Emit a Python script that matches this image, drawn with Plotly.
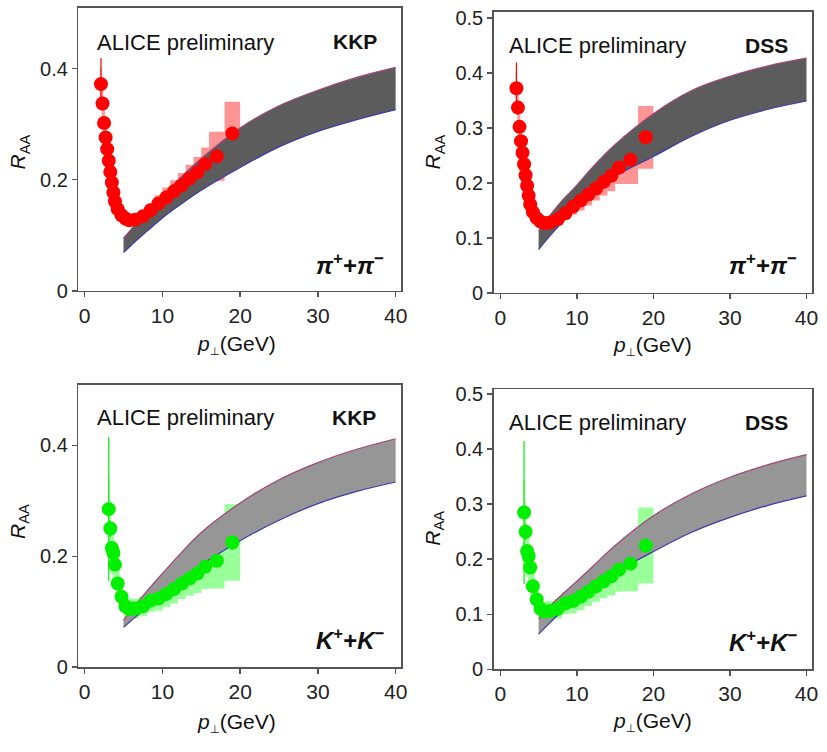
import plotly.graph_objects as go

W, H = 827, 752

# ---------------- data ----------------
# charged pions (ALICE preliminary)
pi_pt = [2.1, 2.3, 2.5, 2.7, 2.9, 3.1, 3.3, 3.5, 3.7, 3.9, 4.25, 4.75, 5.25, 5.75,
         6.5, 7.5, 8.5, 9.5, 10.5, 11.5, 12.5, 13.5, 14.5, 15.5, 17.0, 19.0]
pi_edges = [2.0, 2.2, 2.4, 2.6, 2.8, 3.0, 3.2, 3.4, 3.6, 3.8, 4.0, 4.5, 5.0, 5.5,
            6.0, 7.0, 8.0, 9.0, 10.0, 11.0, 12.0, 13.0, 14.0, 15.0, 16.0, 18.0, 20.0]
pi_raa = [0.372, 0.337, 0.302, 0.276, 0.255, 0.234, 0.214, 0.195, 0.177, 0.161, 0.147,
          0.136, 0.130, 0.127, 0.128, 0.134, 0.145, 0.157, 0.168, 0.179, 0.190, 0.202,
          0.213, 0.228, 0.242, 0.283]
pi_stat = [0.047, 0.012, 0.008, 0.006, 0.005, 0.005, 0.004, 0.004, 0.004, 0.004, 0.003,
           0.003, 0.003, 0.003, 0.003, 0.003, 0.003, 0.004, 0.004, 0.005, 0.005, 0.006,
           0.007, 0.008, 0.008, 0.012]
pi_sys = [0.030, 0.027, 0.024, 0.022, 0.020, 0.019, 0.017, 0.016, 0.014, 0.013, 0.012,
          0.011, 0.010, 0.010, 0.010, 0.011, 0.012, 0.015, 0.018, 0.020, 0.022, 0.025,
          0.028, 0.030, 0.044, 0.057]

# charged kaons (ALICE preliminary)
k_pt = [3.1, 3.3, 3.5, 3.7, 3.9, 4.25, 4.75, 5.25, 5.75, 6.5, 7.5, 8.5, 9.5, 10.5,
        11.5, 12.5, 13.5, 14.5, 15.5, 17.0, 19.0]
k_edges = [3.0, 3.2, 3.4, 3.6, 3.8, 4.0, 4.5, 5.0, 5.5, 6.0, 7.0, 8.0, 9.0, 10.0,
           11.0, 12.0, 13.0, 14.0, 15.0, 16.0, 18.0, 20.0]
k_raa = [0.285, 0.250, 0.215, 0.206, 0.185, 0.151, 0.127, 0.110, 0.105, 0.106, 0.110,
         0.120, 0.124, 0.132, 0.141, 0.151, 0.160, 0.169, 0.181, 0.192, 0.225]
k_stat = [0.130, 0.015, 0.010, 0.008, 0.007, 0.006, 0.005, 0.004, 0.004, 0.004, 0.004,
          0.004, 0.004, 0.005, 0.005, 0.006, 0.006, 0.007, 0.008, 0.009, 0.013]
k_sys = [0.058, 0.052, 0.047, 0.045, 0.040, 0.030, 0.024, 0.020, 0.018, 0.018, 0.018,
         0.020, 0.022, 0.024, 0.026, 0.028, 0.031, 0.035, 0.040, 0.050, 0.069]

# theory bands
band_pt = [5, 6, 7, 8, 10, 12, 15, 20, 25, 30, 35, 40]
pi_kkp_hi = [0.095, 0.111, 0.127, 0.142, 0.170, 0.199, 0.238, 0.293, 0.333, 0.361, 0.384, 0.402]
pi_kkp_lo = [0.069, 0.082, 0.095, 0.107, 0.131, 0.152, 0.181, 0.222, 0.259, 0.287, 0.308, 0.326]
pi_dss_hi = [0.113, 0.132, 0.150, 0.167, 0.196, 0.228, 0.270, 0.326, 0.368, 0.394, 0.413, 0.427]
pi_dss_lo = [0.079, 0.096, 0.112, 0.127, 0.157, 0.180, 0.212, 0.248, 0.285, 0.314, 0.334, 0.349]
k_kkp_hi = [0.085, 0.103, 0.120, 0.137, 0.169, 0.200, 0.243, 0.296, 0.338, 0.369, 0.393, 0.412]
k_kkp_lo = [0.072, 0.084, 0.096, 0.107, 0.131, 0.152, 0.184, 0.228, 0.265, 0.295, 0.317, 0.334]
k_dss_hi = [0.092, 0.108, 0.122, 0.135, 0.160, 0.186, 0.225, 0.279, 0.319, 0.349, 0.372, 0.390]
k_dss_lo = [0.064, 0.078, 0.092, 0.104, 0.128, 0.148, 0.176, 0.214, 0.249, 0.276, 0.298, 0.315]

x_ticks = [0, 10, 20, 30, 40]
y_ticks_kkp = [0, 0.2, 0.4]
y_tick_text_kkp = ["0", "0.2", "0.4"]
y_ticks_dss = [0, 0.1, 0.2, 0.3, 0.4, 0.5]
y_tick_text_dss = ["0", "0.1", "0.2", "0.3", "0.4", "0.5"]

# ---------------- layout helpers ----------------
FONT = "Arial, 'Liberation Sans', sans-serif"


def fx(p):
    return p / W


def fy(p):
    return 1 - p / H


panels = [
    dict(name="pi_kkp", box=(79, 2, 404, 291.4), xr=[-0.8, 40.7], yr=[0, 0.509],
         pt=pi_pt, edges=pi_edges, raa=pi_raa, stat=pi_stat, sys=pi_sys,
         hi=pi_kkp_hi, lo=pi_kkp_lo, band="rgb(92,92,92)",
         mcol="#ff0000", scol="rgba(255,0,0,0.42)",
         yt=y_ticks_kkp, ytt=y_tick_text_kkp, model="KKP",
         part="<b><i>π</i><sup>+</sup>+<i>π</i><sup>−</sup></b>",
         alice=(186.5, 37), mlab=(357.5, 36), plab=(353, 264),
         xtitle=(238, 346), ytitle=(19, 149)),
    dict(name="pi_dss", box=(497.3, 6, 818, 293.6), xr=[-0.87, 40.73], yr=[0, 0.511],
         pt=pi_pt, edges=pi_edges, raa=pi_raa, stat=pi_stat, sys=pi_sys,
         hi=pi_dss_hi, lo=pi_dss_lo, band="rgb(92,92,92)",
         mcol="#ff0000", scol="rgba(255,0,0,0.42)",
         yt=y_ticks_dss, ytt=y_tick_text_dss, model="DSS",
         part="<b><i>π</i><sup>+</sup>+<i>π</i><sup>−</sup></b>",
         alice=(602, 40), mlab=(772, 40), plab=(769, 264),
         xtitle=(657, 347), ytitle=(437, 149)),
    dict(name="k_kkp", box=(79, 387.7, 404, 676.5), xr=[-0.8, 40.7], yr=[0, 0.509],
         pt=k_pt, edges=k_edges, raa=k_raa, stat=k_stat, sys=k_sys,
         hi=k_kkp_hi, lo=k_kkp_lo, band="rgb(150,150,150)",
         mcol="#00f000", scol="rgba(0,255,0,0.40)",
         yt=y_ticks_kkp, ytt=y_tick_text_kkp, model="KKP",
         part="<b><i>K</i><sup>+</sup>+<i>K</i><sup>−</sup></b>",
         alice=(186.5, 421), mlab=(357, 421), plab=(353, 648),
         xtitle=(238, 733), ytitle=(19, 527)),
    dict(name="k_dss", box=(497.3, 392, 818, 678.7), xr=[-0.87, 40.73], yr=[0, 0.509],
         pt=k_pt, edges=k_edges, raa=k_raa, stat=k_stat, sys=k_sys,
         hi=k_dss_hi, lo=k_dss_lo, band="rgb(150,150,150)",
         mcol="#00f000", scol="rgba(0,255,0,0.40)",
         yt=y_ticks_dss, ytt=y_tick_text_dss, model="DSS",
         part="<b><i>K</i><sup>+</sup>+<i>K</i><sup>−</sup></b>",
         alice=(602, 426), mlab=(772, 426), plab=(769, 650),
         xtitle=(657, 732), ytitle=(437, 534)),
]

fig = go.Figure()
annotations = []
layout_axes = {}

for i, p in enumerate(panels, start=1):
    xa = "x" if i == 1 else f"x{i}"
    ya = "y" if i == 1 else f"y{i}"
    # theory band
    fig.add_trace(go.Scatter(x=band_pt, y=p["hi"], mode="lines",
                             line=dict(color="rgb(160,70,120)", width=1.2, shape="spline"),
                             xaxis=xa, yaxis=ya, showlegend=False, hoverinfo="skip"))
    fig.add_trace(go.Scatter(x=band_pt, y=p["lo"], mode="lines", fill="tonexty",
                             fillcolor=p["band"],
                             line=dict(color="rgb(60,60,170)", width=1.2, shape="spline"),
                             xaxis=xa, yaxis=ya, showlegend=False, hoverinfo="skip"))
    # systematic boxes
    ed = p["edges"]
    centers = [(ed[j] + ed[j + 1]) / 2 for j in range(len(p["pt"]))]
    widths = [ed[j + 1] - ed[j] for j in range(len(p["pt"]))]
    bases = [v - s for v, s in zip(p["raa"], p["sys"])]
    heights = [2 * s for s in p["sys"]]
    fig.add_trace(go.Bar(x=centers, y=heights, base=bases, width=widths,
                         marker=dict(color=p["scol"], line=dict(width=0)),
                         xaxis=xa, yaxis=ya, showlegend=False, hoverinfo="skip"))
    # data points
    fig.add_trace(go.Scatter(x=p["pt"], y=p["raa"], mode="markers",
                             marker=dict(color=p["mcol"], size=14, line=dict(width=0)),
                             error_y=dict(type="data", array=p["stat"], color=p["mcol"],
                                          thickness=1.2, width=0),
                             xaxis=xa, yaxis=ya, showlegend=False))

    x0, y0, x1, y1 = p["box"]
    common = dict(showline=True, mirror=True, linecolor="#555555", linewidth=1.5,
                  ticks="outside", ticklen=5, tickwidth=1.5, tickcolor="#555555",
                  showgrid=False, zeroline=False, fixedrange=True)
    layout_axes["xaxis" if i == 1 else f"xaxis{i}"] = dict(
        domain=[fx(x0), fx(x1)], range=p["xr"], anchor=ya,
        tickvals=x_ticks, ticktext=[str(t) for t in x_ticks],
        tickfont=dict(family=FONT, size=21, color="#222222"), **common)
    layout_axes["yaxis" if i == 1 else f"yaxis{i}"] = dict(
        domain=[fy(y1), fy(y0)], range=p["yr"], anchor=xa,
        tickvals=p["yt"], ticktext=p["ytt"],
        tickfont=dict(family=FONT, size=20, color="#222222"), **common)

    def ann(text, pos, size, **kw):
        d = dict(text=text, x=fx(pos[0]), y=fy(pos[1]), xref="paper", yref="paper",
                 showarrow=False, xanchor="center", yanchor="middle",
                 font=dict(family=FONT, size=size, color="#111111"))
        d.update(kw)
        annotations.append(d)

    ann("ALICE preliminary", p["alice"], 22)
    ann(f"<b>{p['model']}</b>", p["mlab"], 21)
    ann(p["part"], p["plab"], 24)
    ann("<i>p</i><sub><span style='font-size:11px'>⊥</span></sub>(GeV)", p["xtitle"], 21)
    ann("<i>R</i><sub>AA</sub>", p["ytitle"], 21, textangle=-90)

fig.update_layout(
    width=W, height=H, autosize=False,
    margin=dict(l=0, r=0, t=0, b=0),
    paper_bgcolor="white", plot_bgcolor="white",
    barmode="overlay", showlegend=False,
    annotations=annotations,
    **layout_axes,
)

fig.write_html("out.html", config={"displayModeBar": False, "staticPlot": True},
               post_script="document.body.style.margin='0';document.body.style.overflow='hidden';")
